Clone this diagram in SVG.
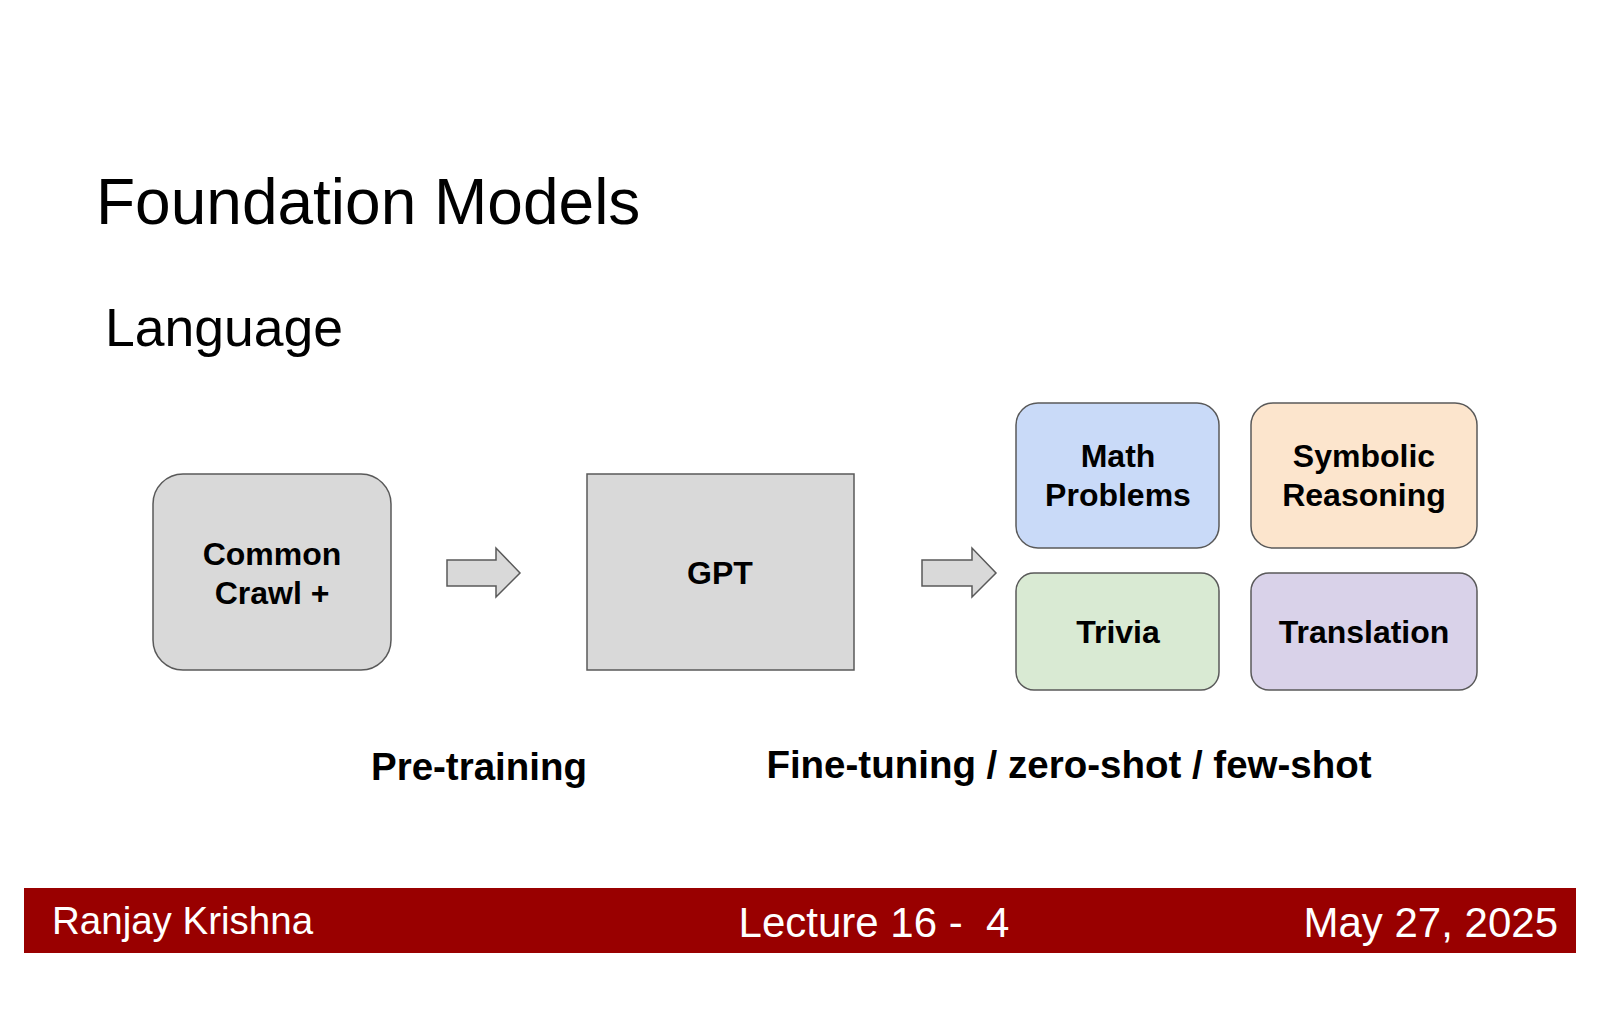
<svg xmlns="http://www.w3.org/2000/svg" width="1600" height="1035" viewBox="0 0 1600 1035">
<style>
text{font-family:"Liberation Sans",Arial,sans-serif}
.n{font-weight:bold;font-size:32px;text-anchor:middle;fill:#000}
.box{stroke:#595959;stroke-width:1.5}
.arr{fill:#d9d9d9;stroke:#595959;stroke-width:1.5}
.lab{font-weight:bold;font-size:38.5px;text-anchor:middle}
.ft{font-size:42px;fill:#fff}
</style>
<rect width="1600" height="1035" fill="#fff"/>
<text x="96" y="224" font-size="64">Foundation Models</text>
<text x="105" y="346" font-size="53.5">Language</text>
<g id="common"><rect class="box" x="153" y="474" width="238" height="196" rx="30" fill="#d9d9d9"/><text class="n" x="272" y="565">Common</text><text class="n" x="272" y="604">Crawl +</text></g>
<g id="gpt"><rect class="box" x="587" y="474" width="267" height="196" fill="#d9d9d9"/><text class="n" x="720" y="584">GPT</text></g>
<g id="math"><rect class="box" x="1016" y="403" width="203" height="145" rx="22" fill="#c9daf8"/><text class="n" x="1118" y="467">Math</text><text class="n" x="1118" y="506">Problems</text></g>
<g id="symbolic"><rect class="box" x="1251" y="403" width="226" height="145" rx="22" fill="#fce5cd"/><text class="n" x="1364" y="467">Symbolic</text><text class="n" x="1364" y="506">Reasoning</text></g>
<g id="trivia"><rect class="box" x="1016" y="573" width="203" height="117" rx="18" fill="#d9ead3"/><text class="n" x="1118" y="643">Trivia</text></g>
<g id="translation"><rect class="box" x="1251" y="573" width="226" height="117" rx="18" fill="#d9d2e9"/><text class="n" x="1364" y="643">Translation</text></g>
<g id="connectors">
<path class="arr" d="M447 560 H496 V548 L520 573 L496 597 V586 H447 Z"/>
<path class="arr" d="M922 560 H972 V548 L996 573 L972 597 V586 H922 Z"/>
</g>
<text class="lab" x="479" y="780">Pre-training</text>
<text class="lab" x="1069" y="778">Fine-tuning / zero-shot / few-shot</text>
<rect x="24" y="888" width="1552" height="65" fill="#990000"/>
<text class="ft" x="52" y="934" style="font-size:38.5px">Ranjay Krishna</text>
<text class="ft" x="874" y="937" text-anchor="middle" xml:space="preserve" style="white-space:pre">Lecture 16 -  4</text>
<text class="ft" x="1558" y="937" text-anchor="end">May 27, 2025</text>
</svg>
